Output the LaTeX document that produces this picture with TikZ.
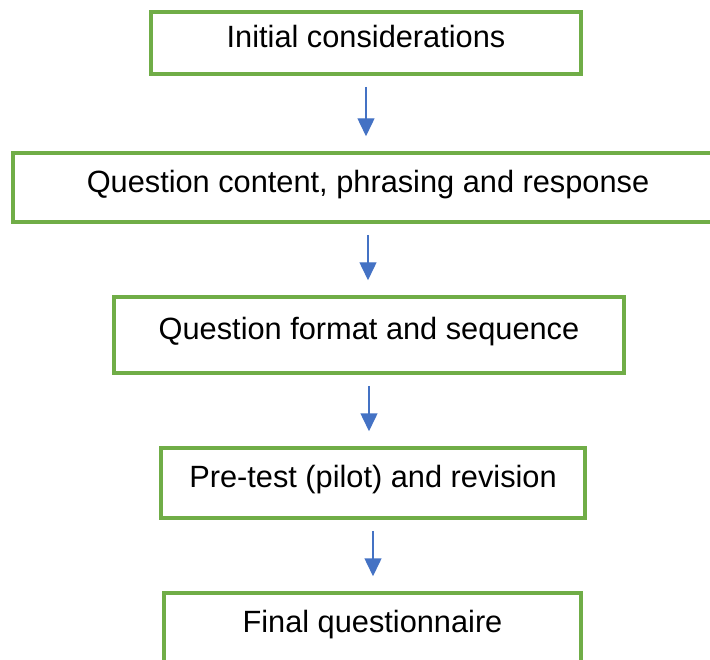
\documentclass[tikz,border=0pt]{standalone}
\usepackage{fontspec}
\setmainfont{Liberation Sans}
\usetikzlibrary{arrows.meta}

\definecolor{boxgreen}{RGB}{112,173,71}
\definecolor{arrowblue}{RGB}{68,114,196}

\tikzset{
    stagebox/.style={draw=boxgreen, line width=2pt, rectangle,
        text height=0.45cm, text depth=0.27cm,
        font=\fontsize{17.5}{21}\selectfont},
    flow/.style={draw=arrowblue, line width=0.85pt,
        -{Triangle[length=0.36cm,width=0.34cm]},
        shorten <=0.22cm, shorten >=0.3cm}
}

\begin{document}
\begin{tikzpicture}
        \clip (0,0) rectangle (14.2,-13.18);

        \node[stagebox, minimum width=8.6cm, minimum height=1.24cm] at (7.32,-0.86) (init) {Initial considerations};
        \node[stagebox, minimum width=14.2cm, minimum height=1.38cm] at (7.36,-3.75) (content) {Question content, phrasing and response};
        \node[stagebox, minimum width=10.2cm, minimum height=1.52cm] at (7.38,-6.70) (format) {Question format and sequence};
        \node[stagebox, minimum width=8.48cm, minimum height=1.40cm] at (7.46,-9.66) (pretest) {Pre-test (pilot) and revision};
        \node[stagebox, minimum width=8.34cm, minimum height=1.40cm] at (7.45,-12.56) (final) {Final questionnaire};

        \draw [flow] (init.south) -- (init.south |- content.north);
        \draw [flow] (content.south) -- (content.south |- format.north);
        \draw [flow] (format.south) -- (format.south |- pretest.north);
        \draw [flow] (pretest.south) -- (pretest.south |- final.north);
    \end{tikzpicture}
\end{document}
